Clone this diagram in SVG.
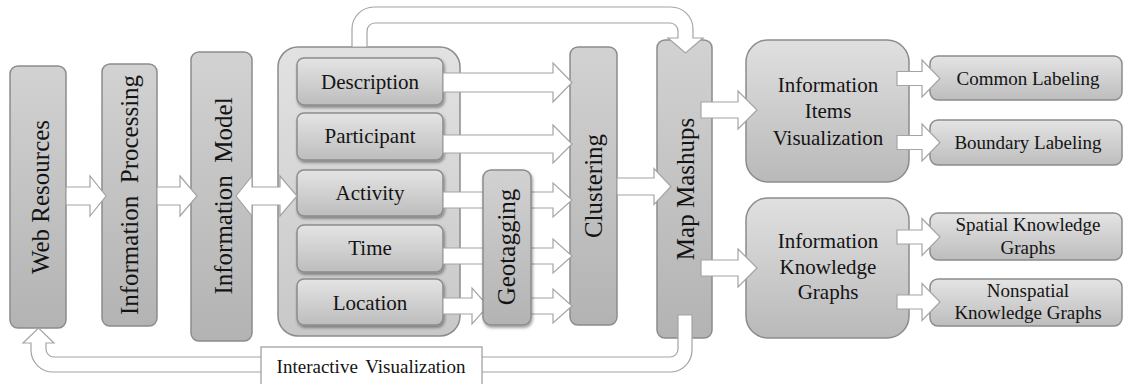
<svg xmlns="http://www.w3.org/2000/svg" width="1124" height="384" viewBox="0 0 1124 384">
  <style>
    .box { stroke: #8c8c8c; stroke-width: 1.5; }
    .tall { fill: url(#gTall); }
    .inner { fill: url(#gInner); filter: url(#shadow); }
    .panel { fill: url(#gPanel); }
    .wide { fill: url(#gWide); }
    .side { fill: url(#gInner); }
    .arrow { fill: #ffffff; stroke: #a4a4a4; stroke-width: 1.2; stroke-linejoin: miter; }
    .t { font-family: "Liberation Serif", serif; fill: #141414; }
    .v { font-size: 25px; text-anchor: middle; }
    .m { font-size: 21px; text-anchor: middle; }
    .s { font-size: 19px; text-anchor: middle; }
  </style>
  <defs>
    <linearGradient id="gTall" x1="0" y1="0" x2="0" y2="1">
      <stop offset="0" stop-color="#d2d2d2"/>
      <stop offset="1" stop-color="#b3b3b3"/>
    </linearGradient>
    <linearGradient id="gInner" x1="0" y1="0" x2="0" y2="1">
      <stop offset="0" stop-color="#e4e4e4"/>
      <stop offset="1" stop-color="#bdbdbd"/>
    </linearGradient>
    <linearGradient id="gPanel" x1="0" y1="0" x2="0" y2="1">
      <stop offset="0" stop-color="#e2e2e2"/>
      <stop offset="1" stop-color="#c8c8c8"/>
    </linearGradient>
    <linearGradient id="gWide" x1="0" y1="0" x2="0" y2="1">
      <stop offset="0" stop-color="#e0e0e0"/>
      <stop offset="1" stop-color="#b9b9b9"/>
    </linearGradient>
    <filter id="shadow" x="-10%" y="-20%" width="120%" height="150%">
      <feDropShadow dx="1" dy="2" stdDeviation="1.5" flood-color="#000" flood-opacity="0.4"/>
    </filter>
  </defs>

  <rect width="1124" height="384" fill="#ffffff"/>

  <!-- pipeline nodes -->
  <g id="web-resources">
    <rect class="box tall" x="10" y="66" width="56" height="262" rx="8"/>
    <text class="t v" transform="translate(49,197) rotate(-90)">Web Resources</text>
  </g>
  <g id="information-processing">
    <rect class="box tall" x="102" y="64" width="55" height="262" rx="8"/>
    <text class="t v" transform="translate(138,195) rotate(-90)" xml:space="preserve">Information  Processing</text>
  </g>
  <g id="information-model">
    <rect class="box tall" x="191" y="52" width="61" height="289" rx="8"/>
    <text class="t v" transform="translate(232,196) rotate(-90)" xml:space="preserve">Information  Model</text>
  </g>

  <g id="facets">
    <rect class="box panel" x="278" y="47" width="182" height="289" rx="20"/>
    <g id="description">
      <rect class="box inner" x="297" y="58" width="146" height="47" rx="7"/>
      <text class="t m" x="370" y="89">Description</text>
    </g>
    <g id="participant">
      <rect class="box inner" x="297" y="113" width="146" height="47" rx="7"/>
      <text class="t m" x="370" y="143">Participant</text>
    </g>
    <g id="activity">
      <rect class="box inner" x="297" y="170" width="146" height="46" rx="7"/>
      <text class="t m" x="370" y="200">Activity</text>
    </g>
    <g id="time">
      <rect class="box inner" x="297" y="225" width="146" height="47" rx="7"/>
      <text class="t m" x="370" y="255">Time</text>
    </g>
    <g id="location">
      <rect class="box inner" x="297" y="279" width="146" height="46" rx="7"/>
      <text class="t m" x="370" y="310">Location</text>
    </g>
  </g>

  <g id="clustering">
    <rect class="box tall" x="570" y="47" width="47" height="278" rx="8"/>
    <text class="t v" transform="translate(601.5,186) rotate(-90)">Clustering</text>
  </g>
  <g id="map-mashups">
    <rect class="box tall" x="657" y="40" width="55" height="298" rx="8"/>
    <text class="t v" transform="translate(693.5,189) rotate(-90)">Map Mashups</text>
  </g>

  <g id="information-items-visualization">
    <rect class="box wide" x="746" y="40" width="163" height="142" rx="22"/>
    <text class="t m" x="828" y="92">Information</text>
    <text class="t m" x="828" y="118">Items</text>
    <text class="t m" x="828" y="145">Visualization</text>
  </g>
  <g id="information-knowledge-graphs">
    <rect class="box wide" x="746" y="198" width="163" height="140" rx="22"/>
    <text class="t m" x="828" y="248">Information</text>
    <text class="t m" x="828" y="274">Knowledge</text>
    <text class="t m" x="828" y="299">Graphs</text>
  </g>

  <g id="common-labeling">
    <rect class="box side" x="930" y="56" width="192" height="44" rx="8"/>
    <text class="t s" x="1028" y="85">Common Labeling</text>
  </g>
  <g id="boundary-labeling">
    <rect class="box side" x="930" y="120" width="192" height="45" rx="8"/>
    <text class="t s" x="1028" y="149">Boundary Labeling</text>
  </g>
  <g id="spatial-knowledge-graphs">
    <rect class="box side" x="930" y="213" width="192" height="47" rx="8"/>
    <text class="t s" x="1028" y="231">Spatial Knowledge</text>
    <text class="t s" x="1028" y="254">Graphs</text>
  </g>
  <g id="nonspatial-knowledge-graphs">
    <rect class="box side" x="930" y="279" width="192" height="47" rx="8"/>
    <text class="t s" x="1028" y="297">Nonspatial</text>
    <text class="t s" x="1028" y="319">Knowledge Graphs</text>
  </g>

  <!-- block arrows -->
  <g id="connectors">
    <polygon class="arrow" points="66,187 90,187 90,176 106,196 90,216 90,205 66,205"/>
    <polygon class="arrow" points="157,187 180,187 180,176 197,196 180,216 180,205 157,205"/>
    <polygon class="arrow" points="236,196 252,176 252,187 280,187 280,176 297,196 280,216 280,205 252,205 252,216"/>

    <polygon class="arrow" points="443,73 553,73 553,63 572,82.5 553,102 553,92 443,92"/>
    <polygon class="arrow" points="443,135 553,135 553,125 572,144 553,163 553,153 443,153"/>
    <polygon class="arrow" points="443,192 553,192 553,183 572,200 553,217 553,208 443,208"/>
    <polygon class="arrow" points="443,248 553,248 553,239 572,256 553,273 553,264 443,264"/>
    <polygon class="arrow" points="443,298 472,298 472,288 488,306 472,324 472,314 443,314"/>
    <polygon class="arrow" points="529,298 553,298 553,289 572,306 553,323 553,314 529,314"/>

    <polygon class="arrow" points="617,178 654,178 654,168.5 671,186.5 654,204.5 654,195 617,195"/>

    <polygon class="arrow" points="701,102 738,102 738,91 757,110 738,129 738,118 701,118"/>
    <polygon class="arrow" points="701,260 738,260 738,249 757,268 738,287 738,276 701,276"/>

    <polygon class="arrow" points="897,71.5 922,71.5 922,60 940,78.5 922,97 922,85.5 897,85.5"/>
    <polygon class="arrow" points="897,135.5 922,135.5 922,124 940,142.5 922,161 922,149.5 897,149.5"/>
    <polygon class="arrow" points="897,230 922,230 922,218.5 940,237 922,255.5 922,244 897,244"/>
    <polygon class="arrow" points="897,295 922,295 922,283.5 940,302 922,320.5 922,309 897,309"/>

    <!-- loop over the top: facets to map mashups -->
    <path class="arrow" d="M352,47 V29 A22,22 0 0 1 374,7 H671 A22,22 0 0 1 693,29 V38 H703 L685.5,53 L668,38 H678 V31 A8,8 0 0 0 670,23 H375 A8,8 0 0 0 367,31 V47 Z"/>

    <!-- feedback loop along the bottom: map mashups back to web resources -->
    <path class="arrow" d="M692,315 V350 A22,22 0 0 1 670,372 H53 A22,22 0 0 1 31,350 V343 H23 L38.5,328 L54,343 H46 V349 A8,8 0 0 0 54,357 H670 A8,8 0 0 0 678,349 V315 Z"/>

    <g id="interactive-visualization">
      <rect x="261" y="347" width="221" height="40" fill="#ffffff" stroke="#9a9a9a" stroke-width="1.2"/>
      <text class="t s" x="371" y="373" word-spacing="3">Interactive Visualization</text>
    </g>
  </g>

  <g id="geotagging">
    <rect class="box tall" x="483" y="170" width="48" height="155" rx="8" filter="url(#shadow)"/>
    <text class="t v" transform="translate(514.5,247) rotate(-90)">Geotagging</text>
  </g>
</svg>
